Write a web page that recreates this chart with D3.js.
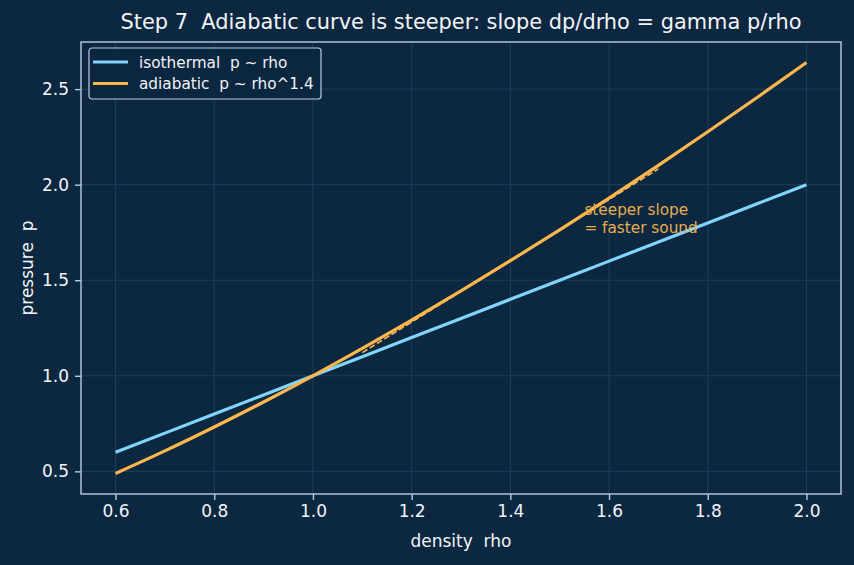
<!DOCTYPE html>
<html>
<head>
<meta charset="utf-8">
<script src="https://cdn.jsdelivr.net/npm/d3@7"></script>
<style>
  body { margin: 0; background: #0c2740; }
  text { font-family: "DejaVu Sans", sans-serif; white-space: pre; }
</style>
</head>
<body>
<svg id="chart" width="854" height="565"></svg>
<script>
// values
var rho = [0.6, 0.7, 0.8, 0.9, 1.0, 1.1, 1.2, 1.3, 1.4, 1.5, 1.6, 1.7, 1.8, 1.9, 2.0];
var pIso = [0.6, 0.7, 0.8, 0.9, 1.0, 1.1, 1.2, 1.3, 1.4, 1.5, 1.6, 1.7, 1.8, 1.9, 2.0];
var pAdi = [0.489, 0.607, 0.732, 0.863, 1.0, 1.143, 1.291, 1.444, 1.602, 1.764, 1.930, 2.101, 2.277, 2.456, 2.639];
var tangentRho = [1.1, 1.7];
var tangentP = [1.121, 2.083];
var xTicks = [0.6, 0.8, 1.0, 1.2, 1.4, 1.6, 1.8, 2.0];
var yTicks = [0.5, 1.0, 1.5, 2.0, 2.5];

var bg = "#0c2740", fg = "#f2f4f7", spine = "#b9cde0";
var blue = "#81d4fa", orange = "#ffb74d";

var svg = d3.select("#chart");
svg.append("rect").attr("width", 854).attr("height", 565).attr("fill", bg);

var m = {left: 81, right: 841, top: 42, bottom: 494};

var x = d3.scaleLinear().domain([0.53, 2.07]).range([m.left, m.right]);
var y = d3.scaleLinear().domain([0.3815, 2.7465]).range([m.bottom, m.top]);

// grid
var grid = svg.append("g").attr("stroke", "#1f3e5b").attr("stroke-width", 1);
xTicks.forEach(function (t) {
    grid.append("line").attr("x1", x(t)).attr("x2", x(t)).attr("y1", m.top).attr("y2", m.bottom);
});
yTicks.forEach(function (t) {
    grid.append("line").attr("y1", y(t)).attr("y2", y(t)).attr("x1", m.left).attr("x2", m.right);
});

// axes
var xAxis = svg.append("g").attr("transform", "translate(0," + m.bottom + ")")
    .call(d3.axisBottom(x).tickValues(xTicks).tickFormat(d3.format(".1f")).tickSizeOuter(0).tickSize(6).tickPadding(5));
var yAxis = svg.append("g").attr("transform", "translate(" + m.left + ",0)")
    .call(d3.axisLeft(y).tickValues(yTicks).tickFormat(d3.format(".1f")).tickSizeOuter(0).tickSize(6).tickPadding(6));
[xAxis, yAxis].forEach(function (a) {
    a.select(".domain").remove();
    a.selectAll("line").attr("stroke", spine).attr("stroke-width", 1.4);
    a.selectAll("text").attr("fill", fg).style("font-size", "17px");
});

// frame
svg.append("rect").attr("x", m.left).attr("y", m.top)
    .attr("width", m.right - m.left).attr("height", m.bottom - m.top)
    .attr("fill", "none").attr("stroke", spine).attr("stroke-width", 1.4);

var line = d3.line().x(function (d) { return x(d[0]); }).y(function (d) { return y(d[1]); });

svg.append("path").datum(d3.zip(rho, pIso)).attr("d", line)
    .attr("fill", "none").attr("stroke", blue).attr("stroke-width", 3.2);
svg.append("path").datum(d3.zip(rho, pAdi)).attr("d", line.curve(d3.curveMonotoneX))
    .attr("fill", "none").attr("stroke", orange).attr("stroke-width", 3.2);
svg.append("path").datum(d3.zip(tangentRho, tangentP))
    .attr("d", d3.line().x(function (d) { return x(d[0]); }).y(function (d) { return y(d[1]); }))
    .attr("fill", "none").attr("stroke", orange).attr("stroke-width", 1.6).attr("stroke-dasharray", "6,2.6");

// annotation
var ann = svg.append("text").attr("fill", "#e6ae50").style("font-size", "15.3px");
ann.append("tspan").attr("x", x(1.55)).attr("y", 215).text("steeper slope");
ann.append("tspan").attr("x", x(1.55)).attr("dy", 17.5).text("= faster sound");

// title & labels
svg.append("text").attr("x", (m.left + m.right) / 2).attr("y", 29).attr("text-anchor", "middle")
    .attr("fill", fg).style("font-size", "20.9px").text("Step 7  Adiabatic curve is steeper: slope dp/drho = gamma p/rho");
svg.append("text").attr("x", (m.left + m.right) / 2).attr("y", 547).attr("text-anchor", "middle")
    .attr("fill", fg).style("font-size", "17px").text("density  rho");
svg.append("text").attr("transform", "translate(33," + ((m.top + m.bottom) / 2) + ") rotate(-90)")
    .attr("text-anchor", "middle").attr("fill", fg).style("font-size", "17px").text("pressure  p");

// legend
var lg = svg.append("g").attr("transform", "translate(89,48)");
lg.append("rect").attr("width", 232).attr("height", 51).attr("rx", 3)
    .attr("fill", bg).attr("stroke", spine).attr("stroke-width", 1.2).attr("fill-opacity", 0.85);
[["isothermal  p ~ rho", blue], ["adiabatic  p ~ rho^1.4", orange]].forEach(function (d, i) {
    var yy = 14 + i * 21.5;
    lg.append("line").attr("x1", 4).attr("x2", 39).attr("y1", yy).attr("y2", yy)
        .attr("stroke", d[1]).attr("stroke-width", 3.2);
    lg.append("text").attr("x", 50).attr("y", yy + 5.5).attr("fill", fg)
        .style("font-size", "15.3px").text(d[0]);
});
</script>
</body>
</html>
